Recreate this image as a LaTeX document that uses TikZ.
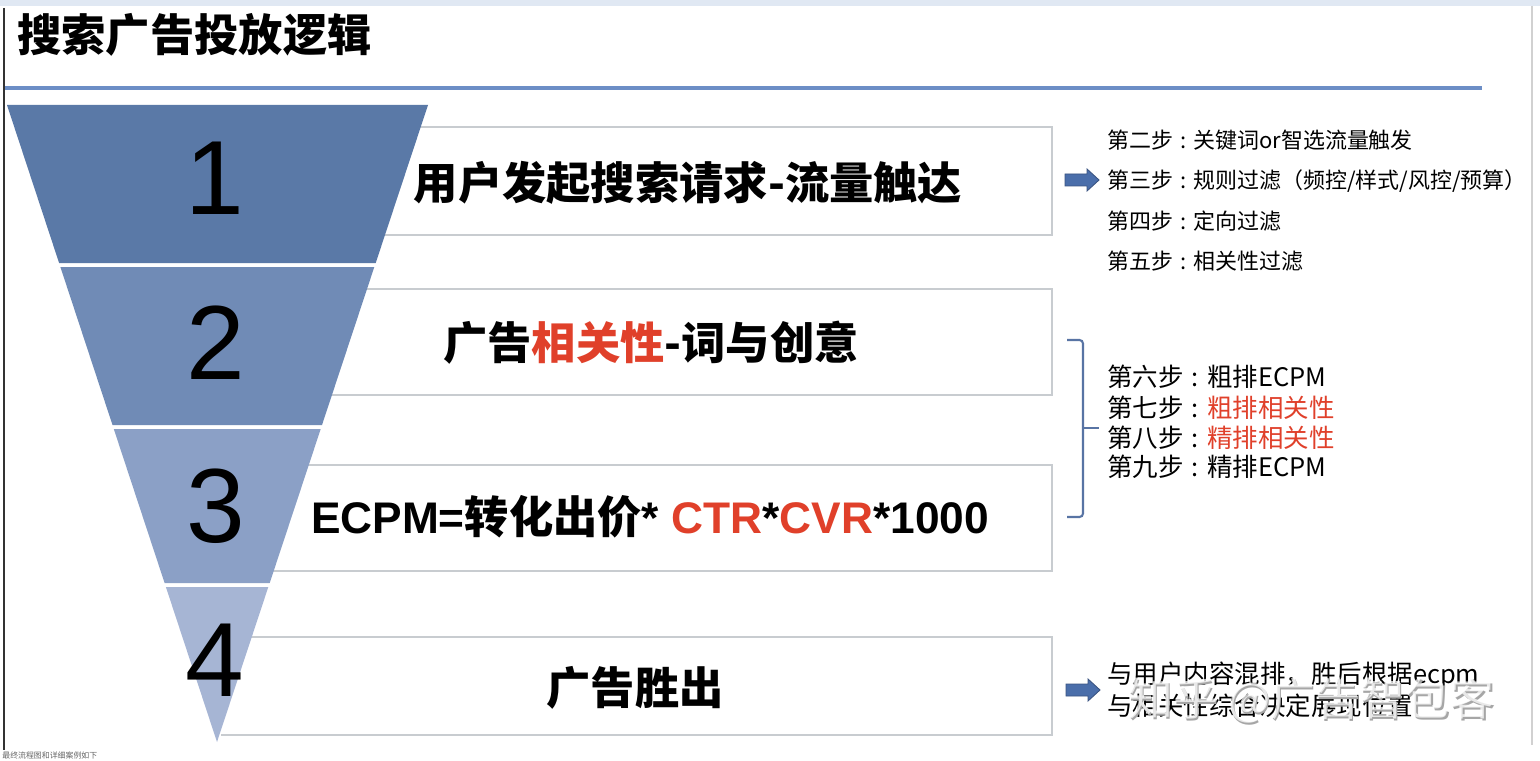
\documentclass[tikz,border=0pt]{standalone}
\usepackage{fontspec}
\setmainfont{Liberation Sans}
\newfontfamily\cjk{Noto Sans CJK SC}
\definecolor{fa}{RGB}{90,121,167}
\definecolor{fb}{RGB}{112,139,182}
\definecolor{fc}{RGB}{139,160,198}
\definecolor{fd}{RGB}{166,181,212}
\definecolor{boxgray}{RGB}{200,204,208}
\definecolor{titleline}{RGB}{108,142,198}
\definecolor{redtext}{RGB}{224,64,42}
\definecolor{arrowblue}{RGB}{74,110,170}
\definecolor{arrowdark}{RGB}{58,84,130}
\definecolor{brk}{RGB}{88,116,164}
\definecolor{topstrip}{RGB}{224,232,243}
\newcommand{\stepcolon}{\hspace{0.32em}:\hspace{0.32em}}
\tikzset{
  boxline/.style={draw=boxgray, line width=0.9pt},
  digit/.style={font=\fontsize{60}{60}\selectfont, text=black, inner sep=0pt},
  maintext/.style={font=\cjk\bfseries\fontsize{25.2}{30}\selectfont, inner sep=0pt},
  steptext/.style={anchor=west, inner sep=0pt, font=\cjk\fontsize{12.5}{15}\selectfont},
  steptextb/.style={anchor=west, inner sep=0pt, font=\cjk\fontsize{14.5}{17}\selectfont},
  blockarrow/.style={fill=arrowblue, draw=arrowdark, line width=0.5pt, line join=miter},
}
\begin{document}
\begin{tikzpicture}[x=0.02cm,y=-0.02cm]
\useasboundingbox (0,0) rectangle (1540,760);
\fill[white] (0,0) rectangle (1540,760);
% top strip and frame
\fill[topstrip] (0,0) rectangle (1540,6);
\draw[black!80, line width=1.1pt] (4,8) -- (4,750);
\draw[black!18, line width=1pt] (1532,6) -- (1532,745);
% title
\node[anchor=west, inner sep=0pt, font=\cjk\bfseries\fontsize{25.2}{30}\selectfont] (title) at (17,35) {搜索广告投放逻辑};
\draw[titleline, line width=1.9pt] (5,88) -- (1482,88);
% boxes (behind funnel)
\draw[boxline] (418,127) -- (1052,127) -- (1052,235) -- (382,235);
\draw[boxline] (364,289) -- (1052,289) -- (1052,395) -- (329,395);
\draw[boxline] (306,465) -- (1052,465) -- (1052,571) -- (271,571);
\draw[boxline] (249,637) -- (1052,637) -- (1052,735) -- (221,735);
% funnel
\fill[fa] (7,105) -- (428,105) -- (375.7,263) -- (59.1,263) -- cycle;
\fill[fb] (60.4,267) -- (374.3,267) -- (322.0,425) -- (112.5,425) -- cycle;
\fill[fc] (113.8,429) -- (320.7,429) -- (269.7,583) -- (164.6,583) -- cycle;
\fill[fd] (165.9,587) -- (268.3,587) -- (217,742) -- cycle;
% digits
\node[digit] (d1) at (215,178) {1};
\node[digit] (d2) at (216,343) {2};
\node[digit] (d3) at (216,506) {3};
\node[digit] (d4) at (215,660) {4};
% main texts
\node[maintext] (t1) at (688,183) {用户发起搜索请求-流量触达};
\node[maintext] (t2) at (651,343) {广告\textcolor{redtext}{相关性}-词与创意};
\node[inner sep=0pt, font=\bfseries\fontsize{25.2}{30}\selectfont] (t3) at (650,517)
  {ECPM={\cjk 转化出价}* \textcolor{redtext}{CTR}*\textcolor{redtext}{CVR}*1000};
\node[maintext] (t4) at (635,688) {广告胜出};
% right side step texts
\node[steptext] (s2) at (1107,140) {第二步\stepcolon 关键词or智选流量触发};
\node[steptext] (s3) at (1107,181) {第三步\stepcolon 规则过滤（频控/样式/风控/预算）};
\node[steptext] (s4) at (1107,221) {第四步\stepcolon 定向过滤};
\node[steptext] (s5) at (1107,261) {第五步\stepcolon 相关性过滤};
\coordinate (a1) at (1082,180);
\draw[blockarrow] ([shift={(-17,-6)}]a1) -- ++(22,0) -- ++(0,-5) -- ++(12,11) -- ++(-12,11) -- ++(0,-5) -- ++(-22,0) -- cycle;
\node[steptextb] (s6) at (1107,377) {第六步\stepcolon 粗排ECPM};
\node[steptextb] (s7) at (1107,408) {第七步\stepcolon\textcolor{redtext}{粗排相关性}};
\node[steptextb] (s8) at (1107,438) {第八步\stepcolon\textcolor{redtext}{精排相关性}};
\node[steptextb] (s9) at (1107,467) {第九步\stepcolon 精排ECPM};
% bracket
\coordinate (bt) at (1067,340);
\coordinate (bb) at (1067,517);
\coordinate (bm) at (1083,428);
\coordinate (btip) at (1099,428);
\draw[brk, line width=1.2pt, rounded corners=2pt] (bt) -- (1083,340) -- (1083,517) -- (bb);
\draw[brk, line width=1.2pt] (bm) -- (btip);
% bottom right
\coordinate (a2) at (1083,690);
\draw[blockarrow] ([shift={(-17,-6)}]a2) -- ++(22,0) -- ++(0,-5) -- ++(12,11) -- ++(-12,11) -- ++(0,-5) -- ++(-22,0) -- cycle;
\node[steptextb] (s10) at (1107,676) {与用户内容混排，胜后根据ecpm};
\node[steptextb] (s11) at (1107,706) {与相关性综合决定展现位置};
% watermark
\node[anchor=west, inner sep=0pt, text=black!35, font=\cjk\fontsize{25.5}{30}\selectfont] (wms) at (1129.5,702) {知乎 @广告智包客};
\node[anchor=west, inner sep=0pt, text=white, opacity=0.75, font=\cjk\fontsize{25.5}{30}\selectfont] (wm) at (1128,700) {知乎 @广告智包客};
% tiny caption
\node[anchor=west, inner sep=0pt, text=black!60, font=\cjk\fontsize{4.5}{5}\selectfont] (cap) at (2,755) {最终流程图和详细案例如下};
\end{tikzpicture}
\end{document}
